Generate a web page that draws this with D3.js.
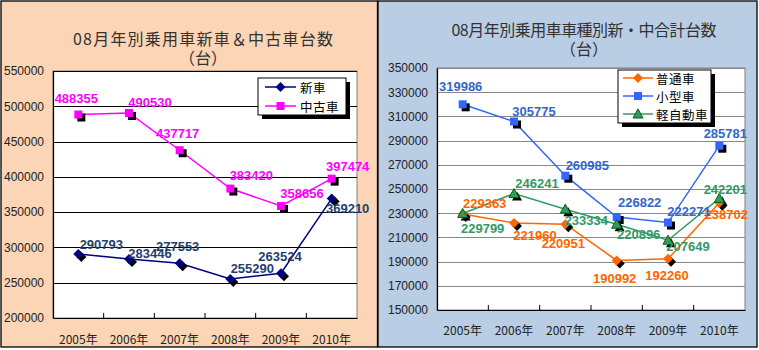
<!DOCTYPE html>
<html><head><meta charset="utf-8">
<script src="https://cdn.jsdelivr.net/npm/d3@7/dist/d3.min.js"></script>
<style>
html,body{margin:0;padding:0;background:#fff;}
svg text{font-family:"Liberation Sans",Arial,"Noto Sans CJK JP",sans-serif;}
.cjk{font-family:"Noto Sans CJK JP","Liberation Sans",sans-serif;}
</style></head>
<body>
<svg id="c" width="759" height="350"></svg>
<script>
// ---------- data ----------
const years = ["2005年","2006年","2007年","2008年","2009年","2010年"];

const leftTitle = ["08月年別乗用車新車＆中古車台数","（台）"];
const leftTicks = [200000,250000,300000,350000,400000,450000,500000,550000];
const newCars  = [290793,283446,277553,255290,263524,369210];
const usedCars = [488355,490530,437717,383420,358656,397474];

const rightTitle = ["08月年別乗用車車種別新・中合計台数","（台）"];
const rightTicks = [150000,170000,190000,210000,230000,250000,270000,290000,310000,330000,350000];
const regularCars = [229363,221960,220951,190992,192260,238702];
const smallCars   = [319986,305775,260985,226822,222271,285781];
const keiCars     = [229799,246241,233334,220896,207649,242201];

// ---------- layout (label offsets relative to point) ----------
const offNew     = [[23,-9],[21,-6],[-2,-17],[22,-10],[-1,-17],[16,10]];
const offUsed    = [[-2,-16],[21,-10],[-2,-17],[21,-13],[21,-13],[16,-12]];
const offRegular = [[22,-10],[21,13],[-2,19],[-2,18],[-1,17],[7,12]];
const offSmall   = [[-2,-18],[20,-10],[22,-10],[23,-15],[21,-11],[6,-12]];
const offKei     = [[20,15],[23,-10],[21,11],[22,10],[20,6],[6,-9]];

const svg = d3.select("#c");

function marker(sel, shape, color, stroke){
  if(shape==="diamond") sel.append("path").attr("d","M0,-5L5,0L0,5L-5,0Z").attr("fill",color).attr("stroke",stroke||"none");
  else if(shape==="square") sel.append("rect").attr("x",-4).attr("y",-4).attr("width",8).attr("height",8).attr("fill",color).attr("stroke",stroke||"none");
  else sel.append("path").attr("d","M0,-5L5,4L-5,4Z").attr("fill",color).attr("stroke",stroke||"none");
}

function panel(o){
  const g = svg.append("g");
  g.append("rect").attr("x",o.px).attr("y",o.py).attr("width",o.pw).attr("height",o.ph)
    .attr("fill",o.bg).attr("stroke","#000").attr("stroke-width",1.3);
  // title
  o.title.forEach((t,i)=>{
    const tx = g.append("text").attr("class","cjk").attr("x",o.titleX).attr("y",o.titleY[i])
      .attr("text-anchor","middle").attr("dominant-baseline","central")
      .attr("font-size",16).attr("fill","#333").text(t);
    if(i===0) tx.attr("textLength",o.titleLen).attr("lengthAdjust","spacing");
  });
  const x = d3.scaleBand().domain(years).range([o.left,o.right]);
  const y = d3.scaleLinear().domain([o.ticks[0],o.ticks[o.ticks.length-1]]).range([o.bottom,o.top]);
  const cx = d=>x(d)+x.bandwidth()/2;
  // plot area
  g.append("rect").attr("x",o.left).attr("y",o.top).attr("width",o.right-o.left).attr("height",o.bottom-o.top)
    .attr("fill","#fff").attr("stroke","#808080").attr("stroke-width",1);
  // grid
  g.append("g").selectAll("line").data(o.ticks.slice(1)).join("line")
    .attr("x1",o.left).attr("x2",o.right).attr("y1",d=>Math.round(y(d))+0.5).attr("y2",d=>Math.round(y(d))+0.5)
    .attr("stroke",o.grid).attr("stroke-width",1);
  // y axis
  const ya = g.append("g").attr("transform",`translate(${o.left},0)`)
    .call(d3.axisLeft(y).tickValues(o.ticks).tickSize(0).tickPadding(9).tickFormat(d3.format("d")));
  ya.select(".domain").attr("stroke","#000").attr("stroke-width",1.2);
  ya.selectAll("text").attr("font-size",12).attr("fill","#222").attr("font-family","Liberation Sans, Arial, sans-serif");
  // x axis
  const xa = g.append("g").attr("transform",`translate(0,${o.bottom})`)
    .call(d3.axisBottom(x).tickSize(0).tickPadding(o.xPad));
  xa.select(".domain").attr("stroke","#000").attr("stroke-width",1.2);
  xa.selectAll("text").attr("font-size",12).attr("fill","#222").attr("class","cjk").attr("dy","0.32em")
    .attr("dominant-baseline","middle");
  // band boundary ticks (inside)
  g.append("g").selectAll("line").data(years.slice(1)).join("line")
    .attr("x1",d=>x(d)).attr("x2",d=>x(d)).attr("y1",o.bottom).attr("y2",o.bottom-5)
    .attr("stroke","#000").attr("stroke-width",1);
  // series
  const line = d3.line().x((d,i)=>cx(years[i])).y(d=>y(d));
  o.series.forEach(s=>{
    g.append("path").datum(s.values).attr("d",line).attr("fill","none")
      .attr("stroke",s.color).attr("stroke-width",1.5);
  });
  o.series.forEach(s=>{
    s.values.forEach((v,i)=>{
      const m = g.append("g").attr("transform",`translate(${cx(years[i])+3},${y(v)+3})`);
      marker(m,s.shape,"#000");
    });
  });
  o.series.forEach(s=>{
    s.values.forEach((v,i)=>{
      const m = g.append("g").attr("transform",`translate(${cx(years[i])},${y(v)})`);
      marker(m,s.shape,s.color,s.mstroke);
    });
  });
  o.series.forEach(s=>{
    g.append("g").selectAll("text").data(s.values).join("text")
      .attr("x",(d,i)=>cx(years[i])+s.off[i][0]).attr("y",(d,i)=>y(d)+s.off[i][1])
      .attr("text-anchor","middle").attr("dominant-baseline","central")
      .attr("font-size",13).attr("font-weight","bold").attr("fill",s.labelColor)
      .text(d=>d);
  });
  // legend
  const L = o.legend;
  g.append("rect").attr("x",L.x+4).attr("y",L.y+4).attr("width",L.w).attr("height",L.h).attr("fill","#000");
  g.append("rect").attr("x",L.x).attr("y",L.y).attr("width",L.w).attr("height",L.h).attr("fill","#fff")
    .attr("stroke","#000").attr("stroke-width",1);
  o.series.forEach((s,i)=>{
    const yy = L.y+L.y0+i*L.dy;
    g.append("line").attr("x1",L.x+L.lx1).attr("x2",L.x+L.lx2).attr("y1",yy).attr("y2",yy)
      .attr("stroke",s.color).attr("stroke-width",1.5);
    const m = g.append("g").attr("transform",`translate(${L.x+(L.lx1+L.lx2)/2},${yy})`);
    marker(m,s.shape,s.color,s.mstroke);
    g.append("text").attr("class","cjk").attr("x",L.x+L.tx).attr("y",yy).attr("dominant-baseline","central")
      .attr("font-size",12.5).attr("letter-spacing",0.5).attr("fill","#000").text(s.name);
  });
}

panel({
  px:1,py:1,pw:376.5,ph:346,bg:"#FBD5B5",
  title:leftTitle,titleX:203,titleY:[38,57],titleLen:260,
  left:53,right:357,top:71,bottom:318,ticks:leftTicks,grid:"#000",xPad:19,
  series:[
    {name:"新車",values:newCars,color:"#000080",labelColor:"#1F3F6E",shape:"diamond",off:offNew},
    {name:"中古車",values:usedCars,color:"#FF00FF",labelColor:"#FF00FF",shape:"square",off:offUsed}
  ],
  legend:{x:258,y:78,w:88,h:37,y0:9,dy:19,lx1:7,lx2:38,tx:42}
});

panel({
  px:378,py:1,pw:379,ph:346,bg:"#B9CDE5",
  title:rightTitle,titleX:584,titleY:[29,48],titleLen:265,
  left:437,right:745,top:68,bottom:310,ticks:rightTicks,grid:"#888",xPad:18,
  series:[
    {name:"普通車",values:regularCars,color:"#FF6600",labelColor:"#FF6600",shape:"diamond",off:offRegular},
    {name:"小型車",values:smallCars,color:"#3366FF",labelColor:"#3366CC",shape:"square",off:offSmall},
    {name:"軽自動車",values:keiCars,color:"#339966",labelColor:"#339966",shape:"triangle",off:offKei,mstroke:"#006600"}
  ],
  legend:{x:618,y:70,w:93,h:53,y0:8,dy:18,lx1:5,lx2:35,tx:38}
});
</script>
</body></html>
